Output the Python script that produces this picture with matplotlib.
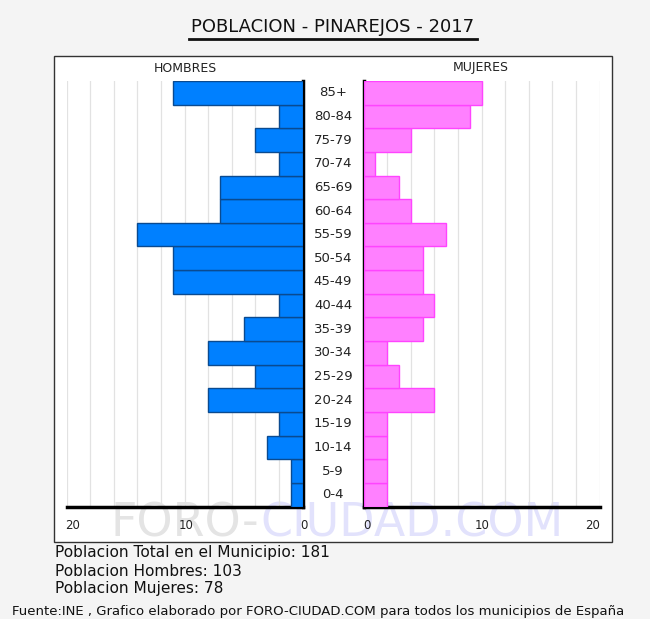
import matplotlib
matplotlib.use("Agg")
import matplotlib.pyplot as plt
from matplotlib.patches import Rectangle
from matplotlib.lines import Line2D
import matplotlib.transforms as mtransforms

plt.rcParams["font.family"] = ["DejaVu Sans"]

ages = ["0-4", "5-9", "10-14", "15-19", "20-24", "25-29", "30-34", "35-39", "40-44",
        "45-49", "50-54", "55-59", "60-64", "65-69", "70-74", "75-79", "80-84", "85+"]
hombres = [1, 1, 3, 2, 8, 4, 8, 5, 2, 11, 11, 14, 7, 7, 2, 4, 2, 11]
mujeres = [2, 2, 2, 2, 6, 3, 2, 5, 6, 5, 5, 7, 4, 3, 1, 4, 9, 10]
left_ticks = [20, 10, 0]
right_ticks = [0, 10, 20]
title = "POBLACION - PINAREJOS - 2017"
total = 181
n_h = 103
n_m = 78

W, H = 650, 619
fig = plt.figure(figsize=(W / 100, H / 100), dpi=100)
fig.patch.set_facecolor("#f4f4f4")

def fx(x):
    return x / W

def fy(y):
    return 1 - y / H

# white box
box = Rectangle((fx(53.5), fy(542)), fx(612) - fx(53.5), fy(56) - fy(542),
                transform=fig.transFigure, facecolor="white", edgecolor="#333333",
                linewidth=1.0, zorder=-2)
fig.patches.append(box)

# watermark
fig.text(fx(111), fy(524), "FORO-", fontsize=33, color="#e4e4e4", ha="left", va="center", zorder=-1)
fig.text(fx(260), fy(524), "CIUDAD.COM", fontsize=33, color="#e2e2fc", ha="left", va="center", zorder=-1)

# title
fig.text(fx(333), fy(27), title, fontsize=13, color="#111111", ha="center", va="center")
fig.add_artist(Line2D([fx(189), fx(477)], [fy(38.5), fy(38.5)], transform=fig.transFigure,
                      color="#111111", linewidth=2))

ax_top, ax_bot = 81, 506.5
axL = fig.add_axes([fx(66.5), fy(ax_bot), fx(302.5) - fx(66.5), fy(ax_top) - fy(ax_bot)])
axR = fig.add_axes([fx(363.5), fy(ax_bot), fx(599.5) - fx(363.5), fy(ax_top) - fy(ax_bot)])

ypos = list(range(len(ages)))
axL.barh(ypos, hombres, height=1.0, color="#0080ff", edgecolor="#0a4a90", linewidth=1, zorder=3)
axR.barh(ypos, mujeres, height=1.0, color="#ff80ff", edgecolor="#ff44ff", linewidth=1, zorder=3)

offsets = {"right": [6, 2, 1], "left": [3, 1, -7]}
for ax, ticks, side in ((axL, left_ticks, "right"), (axR, right_ticks, "left")):
    ax.set_facecolor("none")
    ax.set_ylim(-0.5, len(ages) - 0.5)
    ax.set_xlim(0, 20)
    for s in ax.spines.values():
        s.set_visible(False)
    ax.spines["bottom"].set_visible(True)
    ax.spines["bottom"].set_linewidth(2.5)
    ax.spines["bottom"].set_color("black")
    ax.spines[side].set_visible(True)
    ax.spines[side].set_linewidth(2.5)
    ax.spines[side].set_color("black")
    ax.set_yticks([])
    ax.set_xticks(ticks)
    ax.set_xticklabels([str(t) for t in ticks])
    ax.tick_params(axis="x", length=0, pad=9, labelsize=8.5, labelcolor="#222222")
    for lab, dx in zip(ax.get_xticklabels(), offsets[side]):
        lab.set_transform(lab.get_transform() + mtransforms.ScaledTranslation(dx / 100, 0, fig.dpi_scale_trans))
    for g in range(2, 21, 2):
        ax.axvline(g, color="#e2e2e2", linewidth=0.9, zorder=1)
axL.invert_xaxis()

# age labels
trans = mtransforms.blended_transform_factory(fig.transFigure, axL.transData)
for i, a in enumerate(ages):
    fig.text(fx(333), 0, a, transform=trans, fontsize=9.5, color="#222222",
             ha="center", va="center").set_y(i)

fig.text(fx(185), fy(68), "HOMBRES", fontsize=9, color="#222222", ha="center", va="center")
fig.text(fx(481), fy(68), "MUJERES", fontsize=9, color="#222222", ha="center", va="center")

fig.text(fx(55), fy(552), f"Poblacion Total en el Municipio: {total}", fontsize=11.1,
         color="#111111", ha="left", va="center")
fig.text(fx(55), fy(571), f"Poblacion Hombres: {n_h}", fontsize=11.1,
         color="#111111", ha="left", va="center")
fig.text(fx(55), fy(589), f"Poblacion Mujeres: {n_m}", fontsize=11.1,
         color="#111111", ha="left", va="center")
fig.text(fx(12), fy(612), "Fuente:INE , Grafico elaborado por FORO-CIUDAD.COM para todos los municipios de España",
         fontsize=9.55, color="#111111", ha="left", va="center")

fig.savefig("out.png", dpi=100, facecolor=fig.get_facecolor())
